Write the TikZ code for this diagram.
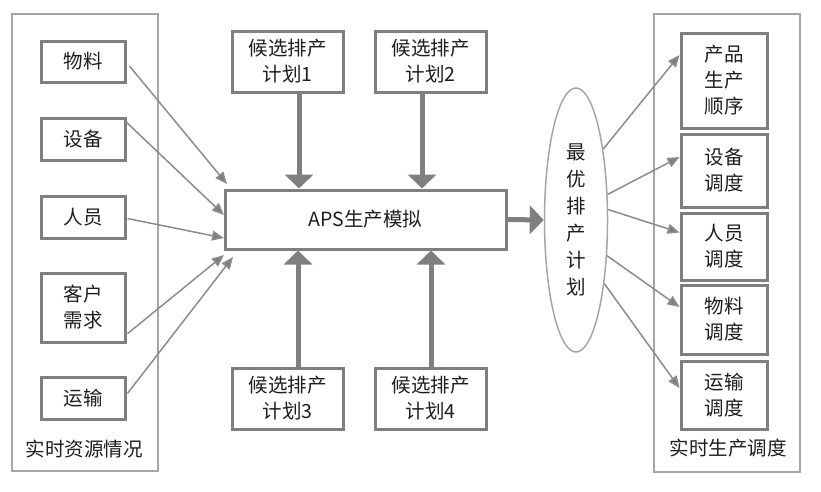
\documentclass[tikz,border=0pt]{standalone}
\usepackage{fontspec}
\setmainfont{Noto Sans CJK SC}
\usetikzlibrary{arrows.meta,shapes.geometric,calc}
\definecolor{boxc}{HTML}{7F7F7F}
\definecolor{contc}{HTML}{A6A6A6}
\definecolor{arrc}{HTML}{8C8C8C}
\definecolor{txtc}{HTML}{1E1E1E}
\begin{document}
\begin{tikzpicture}[x=1pt,y=-1pt,
  every node/.style={font=\fontsize{19.5}{26}\selectfont, text=txtc},
  cont/.style={draw=contc,line width=1.5pt,inner sep=0pt},
  bx/.style={draw=boxc,line width=3pt,fill=white,inner sep=0pt,align=center},
  thinarr/.style={draw=arrc,line width=1.5pt,-{Triangle[length=12pt,width=10pt,fill=boxc]}},
  thickarr/.style={draw=boxc,line width=5pt,-{Triangle[length=14pt,width=28pt]}}]
\useasboundingbox (0,0) rectangle (821,491);
\fill[white] (0,0) rectangle (821,491);
% containers
\node[cont,minimum width=146pt,minimum height=457pt] (L) at (85,242.5) {};
\node (Llab) at (84,449) {实时资源情况};
\node[cont,minimum width=146pt,minimum height=458pt] (R) at (727,243) {};
\node (Rlab) at (728,448) {实时生产调度};
% left boxes
\node[bx,minimum width=84pt,minimum height=41pt] (wl) at (83,61.5) {物料};
\node[bx,minimum width=84pt,minimum height=42pt] (sb) at (83,139) {设备};
\node[bx,minimum width=84pt,minimum height=42pt] (ry) at (83,217) {人员};
\node[bx,minimum width=84pt,minimum height=69pt] (kh) at (83,307.5) {客户\\需求};
\node[bx,minimum width=84pt,minimum height=42pt] (ys) at (83,398) {运输};
% candidate plans
\node[bx,minimum width=111pt,minimum height=61pt] (c1) at (287.5,61.5) {候选排产\\计划1};
\node[bx,minimum width=111pt,minimum height=61pt] (c2) at (430.5,61.5) {候选排产\\计划2};
\node[bx,minimum width=111pt,minimum height=61pt] (c3) at (287.5,398.5) {候选排产\\计划3};
\node[bx,minimum width=111pt,minimum height=61pt] (c4) at (430.5,398.5) {候选排产\\计划4};
% APS
\node[bx,minimum width=281pt,minimum height=59pt] (aps) at (365.5,219.5) {APS生产模拟};
% ellipse
\node[ellipse,draw=contc,line width=1.5pt,minimum width=63pt,minimum height=264pt,inner sep=0pt,align=center,
  font=\fontsize{19.5}{27}\selectfont] (ell) at (576,220) {最\\优\\排\\产\\计\\划};
% right boxes
\node[bx,minimum width=86pt,minimum height=95pt] (p1) at (724,80.5) {产品\\生产\\顺序};
\node[bx,minimum width=86pt,minimum height=73pt] (p2) at (724,170.5) {设备\\调度};
\node[bx,minimum width=86pt,minimum height=67pt] (p3) at (724,246.5) {人员\\调度};
\node[bx,minimum width=86pt,minimum height=69pt] (p4) at (724,319.5) {物料\\调度};
\node[bx,minimum width=86pt,minimum height=68pt] (p5) at (724,395) {运输\\调度};
% target coordinates at APS
\coordinate (t1) at (227,184);
\coordinate (t2) at (224,215);
\coordinate (t3) at (224,238);
\coordinate (t4) at (224,255);
\coordinate (t5) at (233,257);
% left thin arrows
\draw[thinarr] ([xshift=3pt]wl.-6) -- (t1);
\draw[thinarr] (sb.21.6) -- (t2);
\draw[thinarr] ([xshift=1pt]ry.-2.7) -- (t3);
\draw[thinarr] ([xshift=1pt]kh.-31.6) -- (t4);
\draw[thinarr] ([xshift=1pt]ys.6.6) -- (t5);
% thick arrows
\draw[thickarr] ([xshift=11.5pt]c1.south) -- ([xshift=11.5pt]c1.south |- aps.north);
\draw[thickarr] ([xshift=-8.5pt]c2.south) -- ([xshift=-8.5pt]c2.south |- aps.north);
\draw[thickarr] ([xshift=10.5pt]c3.north) -- ([xshift=10.5pt]c3.north |- aps.south);
\draw[thickarr] ([xshift=0.5pt]c4.north) -- ([xshift=0.5pt]c4.north |- aps.south);
\draw[thickarr] (aps.east) -- (ell.west);
% right thin arrows
\draw[thinarr] (ell.69) -- ([yshift=25.5pt]p1.west);
\draw[thinarr] (ell.39) -- ([yshift=13.5pt]p2.west);
\draw[thinarr] (ell.18) -- ([yshift=14pt]p3.west);
\draw[thinarr] (ell.-49) -- ([yshift=12.5pt]p4.west);
\draw[thinarr] (ell.-66) -- ([yshift=7pt]p5.west);
\end{tikzpicture}
\end{document}
